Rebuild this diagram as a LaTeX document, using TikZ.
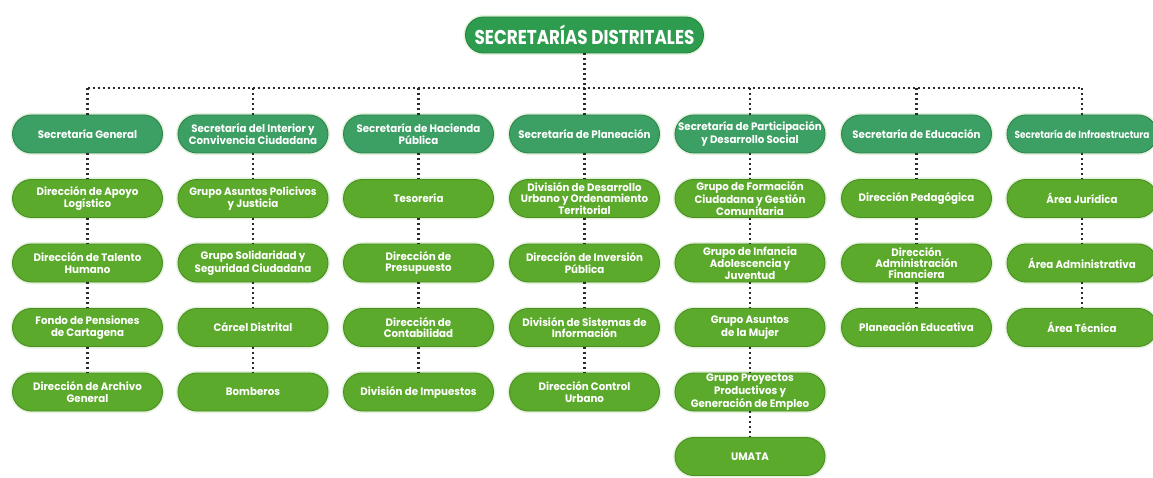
\documentclass[tikz,border=0pt]{standalone}
\usepackage{fontspec}
\setmainfont{Poppins}
\newfontfamily\boxfont[FakeStretch=0.95]{Poppins}
\newfontfamily\narrowfont[FakeStretch=0.88]{Poppins}
\newfontfamily\topfont[FakeStretch=0.84]{Poppins}
\definecolor{topgreen}{HTML}{2E9C4E}
\definecolor{topedge}{HTML}{23843F}
\definecolor{secgreen}{HTML}{3C9F64}
\definecolor{secedge}{HTML}{2D8550}
\definecolor{subgreen}{HTML}{5BAA2B}
\definecolor{subedge}{HTML}{4A8F22}
\definecolor{glow}{HTML}{E4F2DC}
\definecolor{dotcol}{HTML}{2B2B2B}
\tikzset{
  secbox/.style={rounded corners=19pt, minimum width=150pt, minimum height=38pt,
    inner sep=1pt, align=center, fill=secgreen, draw=secedge, line width=0.9pt,
    text=white, font=\boxfont\bfseries\fontsize{10.8}{11.4}\selectfont,
    preaction={draw=glow, line width=4pt}},
  subbox/.style={secbox, fill=subgreen, draw=subedge},
  edgebox/.style={secbox, font=\narrowfont\bfseries\fontsize{10.2}{11.4}\selectfont},
  topbox/.style={rounded corners=18pt, minimum width=238pt, minimum height=36pt,
    inner sep=1pt, align=center, fill=topgreen, draw=topedge, line width=0.9pt,
    text=white, font=\topfont\bfseries\fontsize{20}{22}\selectfont,
    preaction={draw=glow, line width=4pt}},
  conn/.style={draw=dotcol, line width=2.2pt, dash pattern=on 2pt off 3pt},
}
\begin{document}
\begin{tikzpicture}[x=1pt,y=-1pt]
\useasboundingbox[fill=white] (0,0) rectangle (1153,478);
% top
\node[topbox] (top) at (584.5,35) {SECRETARÍAS DISTRITALES};
% column 1
\node[secbox] (c1-1) at (87.5,134) {Secretaría General};
\node[subbox] (c1-2) at (87.5,198.5) {Dirección de Apoyo\\Logístico};
\node[subbox] (c1-3) at (87.5,263) {Dirección de Talento\\Humano};
\node[subbox] (c1-4) at (87.5,327.5) {Fondo de Pensiones\\de Cartagena};
\node[subbox] (c1-5) at (87.5,392) {Dirección de Archivo\\General};
% column 2
\node[secbox] (c2-1) at (253,134) {Secretaría del Interior y\\Convivencia Ciudadana};
\node[subbox] (c2-2) at (253,198.5) {Grupo Asuntos Policivos\\y Justicia};
\node[subbox] (c2-3) at (253,263) {Grupo Solidaridad y\\Seguridad Ciudadana};
\node[subbox] (c2-4) at (253,327.5) {Cárcel Distrital};
\node[subbox] (c2-5) at (253,392) {Bomberos};
% column 3
\node[secbox] (c3-1) at (418.5,134) {Secretaría de Hacienda\\Pública};
\node[subbox] (c3-2) at (418.5,198.5) {Tesorería};
\node[subbox] (c3-3) at (418.5,263) {Dirección de\\Presupuesto};
\node[subbox] (c3-4) at (418.5,327.5) {Dirección de\\Contabilidad};
\node[subbox] (c3-5) at (418.5,392) {División de Impuestos};
% column 4
\node[secbox] (c4-1) at (584.5,134) {Secretaría de Planeación};
\node[subbox] (c4-2) at (584.5,198.5) {División de Desarrollo\\Urbano y Ordenamiento\\Territorial};
\node[subbox] (c4-3) at (584.5,263) {Dirección de Inversión\\Pública};
\node[subbox] (c4-4) at (584.5,327.5) {División de Sistemas de\\Información};
\node[subbox] (c4-5) at (584.5,392) {Dirección Control\\Urbano};
% column 5
\node[secbox] (c5-1) at (750,134) {Secretaría de Participación\\y Desarrollo Social};
\node[subbox] (c5-2) at (750,198.5) {Grupo de Formación\\Ciudadana y Gestión\\Comunitaria};
\node[subbox] (c5-3) at (750,263) {Grupo de Infancia\\Adolescencia y\\Juventud};
\node[subbox] (c5-4) at (750,327.5) {Grupo Asuntos\\de la Mujer};
\node[subbox] (c5-5) at (750,392) {Grupo Proyectos\\Productivos y\\Generación de Empleo};
\node[subbox] (c5-6) at (750,456.5) {UMATA};
% column 6
\node[secbox] (c6-1) at (916.5,134) {Secretaría de Educación};
\node[subbox] (c6-2) at (916.5,198.5) {Dirección Pedagógica};
\node[subbox] (c6-3) at (916.5,263) {Dirección\\Administración\\Financiera};
\node[subbox] (c6-4) at (916.5,327.5) {Planeación Educativa};
% column 7
\node[edgebox] (c7-1) at (1082,134) {Secretaría de Infraestructura};
\node[subbox] (c7-2) at (1082,198.5) {Área Jurídica};
\node[subbox] (c7-3) at (1082,263) {Área Administrativa};
\node[subbox] (c7-4) at (1082,327.5) {Área Técnica};
% bus
\coordinate (bus) at (584.5,88);
\draw[conn] (top.south) -- (bus);
\draw[conn] (c1-1.north |- bus) -- (c7-1.north |- bus);
\foreach \c in {1,...,7} {\draw[conn] (c\c-1.north |- bus) -- (c\c-1.north);}
\foreach \c/\n in {1/5,2/5,3/5,4/5,5/6,6/4,7/4} {
  \foreach \r [evaluate=\r as \p using {int(\r-1)}] in {2,...,\n} {
    \draw[conn] (c\c-\p.south) -- (c\c-\r.north);
  }
}
\end{tikzpicture}
\end{document}
